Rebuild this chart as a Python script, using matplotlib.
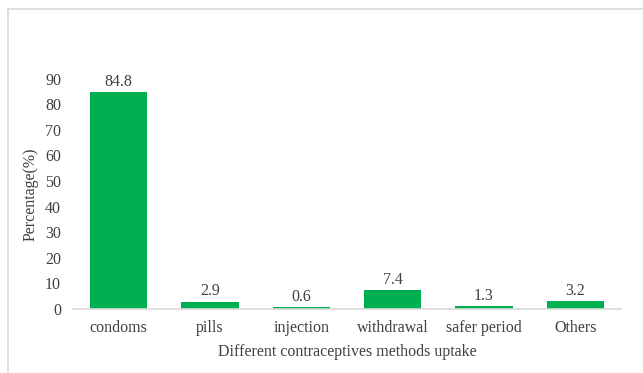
import matplotlib.pyplot as plt
from matplotlib.lines import Line2D

methods = ['condoms', 'pills', 'injection', 'withdrawal', 'safer period', 'Others']
uptake = [84.8, 2.9, 0.6, 7.4, 1.3, 3.2]
yticks = [0, 10, 20, 30, 40, 50, 60, 70, 80, 90]

plt.rcParams['font.family'] = ['Liberation Serif', 'DejaVu Serif']
txt = '#404040'

fig = plt.figure(figsize=(6.43, 3.73), dpi=100)
ax = fig.add_axes([73 / 643, 1 - 309 / 373, 548 / 643, 230.3 / 373])

bars = ax.bar(range(len(methods)), uptake, width=0.625, color='#00B050')
for b, v in zip(bars, uptake):
    ax.annotate('%.1f' % v, (b.get_x() + b.get_width() / 2, v),
                xytext=(0, 1.5), textcoords='offset points',
                ha='center', va='bottom', fontsize=11.5, color=txt)

ax.set_xlim(-0.5, len(methods) - 0.5)
ax.set_ylim(0, 90)
ax.set_yticks(yticks)
ax.set_xticks(range(len(methods)))
ax.set_xticklabels(methods)
ax.tick_params(axis='both', length=0, labelsize=11.5, colors=txt)
ax.tick_params(axis='y', pad=8.6)
ax.tick_params(axis='x', pad=8)

for s in ['top', 'right', 'left']:
    ax.spines[s].set_visible(False)
ax.spines['bottom'].set_color('#D9D9D9')
ax.spines['bottom'].set_linewidth(1.2)

ax.set_xlabel('Different contraceptives methods uptake', fontsize=11.5, color=txt, labelpad=6)
ax.set_ylabel('Percentage(%)', fontsize=11.5, color=txt, labelpad=4.3)

# chart area frame (left and top edges)
fig.add_artist(Line2D([7.5 / 643, 7.5 / 643], [0, 1 - 8.5 / 373],
                      transform=fig.transFigure, color='#D9D9D9', lw=1.2))
fig.add_artist(Line2D([7.5 / 643, 1], [1 - 8.5 / 373, 1 - 8.5 / 373],
                      transform=fig.transFigure, color='#D9D9D9', lw=1.2))

fig.savefig('out.png', dpi=100)
